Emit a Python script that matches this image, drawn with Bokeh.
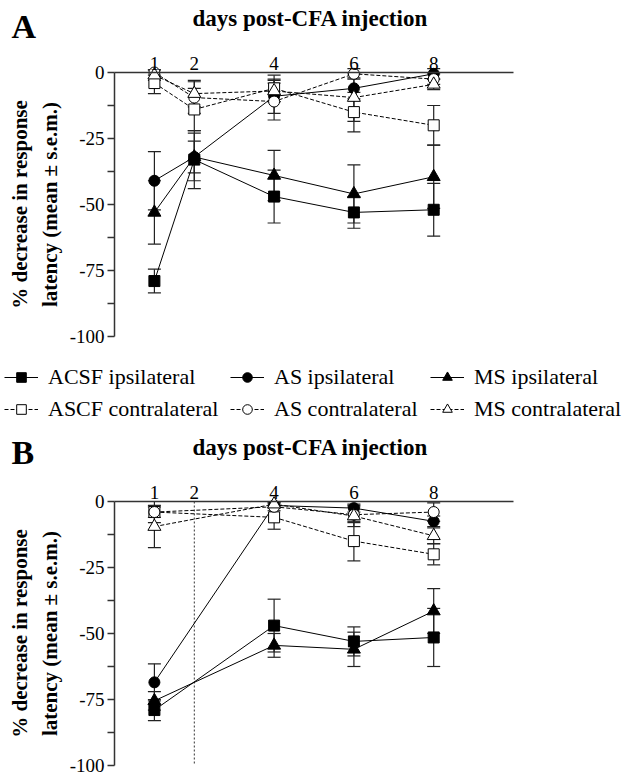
import numpy as np
from bokeh.plotting import figure
from bokeh.models import (ColumnDataSource, Whisker, TeeHead, FixedTicker, Label,
                          Legend, LegendItem)
from bokeh.layouts import column
from bokeh.embed import file_html
from bokeh.resources import INLINE

# ---------------- data ----------------
days_A = [1, 2, 4, 6, 8]
acsf_ipsi_A = [-79, -33, -47, -53, -52]
acsf_ipsi_A_sem = [4.5, 11, 10, 6, 10]
as_ipsi_A = [-41, -32, -9, -6, -0.5]
as_ipsi_A_sem = [11, 6, 6.5, 4, 2]
ms_ipsi_A = [-53, -32, -39, -46, -39.5]
ms_ipsi_A_sem = [12, 9, 9.5, 11, 12]
ascf_contra_A = [-4, -14, -6, -15, -20]
ascf_contra_A_sem = [4, 8, 5, 7.5, 7.5]
as_contra_A = [0, -9.5, -11, -0.5, -2.5]
as_contra_A_sem = [1, 6, 7, 2, 2]
ms_contra_A = [-1, -8, -7, -9.5, -4.5]
ms_contra_A_sem = [2, 5, 4, 9, 2]

days_B = [1, 4, 6, 8]
acsf_ipsi_B = [-79, -47, -53, -51.5]
acsf_ipsi_B_sem = [4, 10, 5.5, 11]
as_ipsi_B = [-68.5, -1.5, -2.5, -7.5]
as_ipsi_B_sem = [7, 1, 1.5, 2]
ms_ipsi_B = [-75.5, -54.5, -56, -41.5]
ms_ipsi_B_sem = [3.5, 4.5, 6.5, 8.5]
ascf_contra_B = [-4, -6, -15, -20]
ascf_contra_B_sem = [4, 4.5, 7.5, 4]
as_contra_B = [-4, -2, -5, -4]
as_contra_B_sem = [2, 1.5, 3, 3.5]
ms_contra_B = [-9.5, -1, -5.5, -13]
ms_contra_B_sem = [8, 1, 4, 3]

x_ticks = [1, 2, 4, 6, 8]
x_axis_extent = (0, 10)
y_ticks = [-100, -75, -50, -25, 0]
y_tick_labels = ["-100", "-75", "-50", "-25", "0"]
y_minor_ticks = [-87.5, -62.5, -37.5, -12.5]
y_axis_extent = (-100, 0)
labels = ["ACSF ipsilateral", "AS ipsilateral", "MS ipsilateral",
          "ASCF contralateral", "AS contralateral", "MS contralateral"]
title_text = "days post-CFA injection"
y_label = "% decrease in response\nlatency (mean \u00b1 s.e.m.)"
dashed_day_B = 2

FONT = "Liberation Serif"
W = 628
PPX = 39.9      # pixels per day
PPY = 2.64      # pixels per percent
X0_PX = 114     # canvas x of day 0


def make_panel(letter, days, series, height, y0_px, letter_base, title_base,
               legend_bottom=None, vline=None):
    x_start = -X0_PX / PPX
    x_end = x_start + W / PPX
    y_end = y0_px / PPY
    y_start = y_end - height / PPY
    p = figure(width=W, height=height, frame_width=W, frame_height=height,
               x_range=(x_start, x_end), y_range=(y_start, y_end),
               min_border=0, x_axis_location="above",
               output_backend="svg", toolbar_location=None)
    p.outline_line_color = None
    p.grid.visible = False
    p.background_fill_color = "white"
    p.border_fill_color = "white"

    def dx(cx):
        return x_start + cx / PPX

    def dy(cy):
        return y_end - cy / PPY

    xa = p.xaxis[0]
    xa.fixed_location = 0
    xa.bounds = x_axis_extent
    xa.ticker = FixedTicker(ticks=x_ticks)
    xa.major_tick_in = 0
    xa.major_tick_out = 0
    xa.minor_tick_line_color = None
    xa.axis_line_width = 1.5
    xa.axis_line_color = "#333333"
    xa.major_label_text_font = FONT
    xa.major_label_text_font_size = "19px"
    xa.major_label_text_color = "black"
    xa.major_label_standoff = 3

    ya = p.yaxis[0]
    ya.fixed_location = 0
    ya.bounds = y_axis_extent
    ya.ticker = FixedTicker(ticks=y_ticks, minor_ticks=y_minor_ticks)
    ya.major_label_overrides = {t: s for t, s in zip(y_ticks, y_tick_labels)}
    ya.major_tick_in = 0
    ya.major_tick_out = 7
    ya.minor_tick_in = 0
    ya.minor_tick_out = 7
    ya.major_tick_line_width = 1.5
    ya.minor_tick_line_width = 1.5
    ya.major_tick_line_color = "#333333"
    ya.minor_tick_line_color = "#333333"
    ya.axis_line_width = 1.5
    ya.axis_line_color = "#333333"
    ya.major_label_text_font = FONT
    ya.major_label_text_font_size = "19px"
    ya.major_label_text_color = "black"
    ya.major_label_standoff = 3
    ya.axis_label = y_label
    ya.axis_label_text_font = FONT
    ya.axis_label_text_font_style = "bold"
    ya.axis_label_text_font_size = "21px"
    ya.axis_label_text_color = "black"
    ya.axis_label_text_line_height = 1.25
    ya.axis_label_standoff = 5

    p.add_layout(Label(x=dx(11), y=dy(letter_base), text=letter,
                       text_font=FONT, text_font_style="bold",
                       text_font_size="34px", text_baseline="alphabetic",
                       text_color="black"))
    p.add_layout(Label(x=dx(310), y=dy(title_base), text=title_text,
                       text_font=FONT, text_font_style="bold",
                       text_font_size="23px", text_baseline="alphabetic",
                       text_align="center", text_color="black"))

    if vline is not None:
        p.segment(x0=[vline], y0=[y_axis_extent[1]], x1=[vline], y1=[y_axis_extent[0]],
                  line_color="#333333", line_width=1, line_dash="2 2")

    renderers = []
    for (vals, sems, marker, filled, dashed, size) in series:
        src = ColumnDataSource(dict(x=days, y=vals,
                                    up=[v + s for v, s in zip(vals, sems)],
                                    lo=[v - s for v, s in zip(vals, sems)]))
        w = Whisker(source=src, base="x", upper="up", lower="lo",
                    dimension="height", line_color="#222222", line_width=1.2,
                    upper_head=TeeHead(size=13, line_color="#222222", line_width=1.2),
                    lower_head=TeeHead(size=13, line_color="#222222", line_width=1.2))
        p.add_layout(w)
        lr = p.line("x", "y", source=src, line_color="black", line_width=1,
                    line_dash="4 2" if dashed else "solid")
        renderers.append((lr, src, marker, filled, size))
    items = []
    for (lr, src, marker, filled, size) in renderers:
        sr = p.scatter("x", "y", source=src, marker=marker, size=size,
                       fill_color="black" if filled else "white",
                       line_color="black", line_width=1)
        items.append([lr, sr])

    if legend_bottom is not None:
        col_x = [4, 230, 430]
        for c in range(3):
            leg = Legend(items=[LegendItem(label=labels[c], renderers=items[c]),
                                LegendItem(label=labels[c + 3], renderers=items[c + 3])],
                         location=(col_x[c], height - legend_bottom),
                         orientation="vertical",
                         glyph_width=34, glyph_height=24, label_height=22,
                         label_standoff=10, spacing=6, padding=0, margin=0,
                         border_line_alpha=0, background_fill_alpha=0,
                         label_text_font=FONT, label_text_font_size="22px",
                         label_text_color="black")
            p.add_layout(leg)
    return p


series_A = [
    (acsf_ipsi_A, acsf_ipsi_A_sem, "square", True, False, 11),
    (as_ipsi_A, as_ipsi_A_sem, "circle", True, False, 11),
    (ms_ipsi_A, ms_ipsi_A_sem, "triangle", True, False, 13),
    (ascf_contra_A, ascf_contra_A_sem, "square", False, True, 11),
    (as_contra_A, as_contra_A_sem, "circle", False, True, 11),
    (ms_contra_A, ms_contra_A_sem, "triangle", False, True, 13),
]
series_B = [
    (acsf_ipsi_B, acsf_ipsi_B_sem, "square", True, False, 11),
    (as_ipsi_B, as_ipsi_B_sem, "circle", True, False, 11),
    (ms_ipsi_B, ms_ipsi_B_sem, "triangle", True, False, 13),
    (ascf_contra_B, ascf_contra_B_sem, "square", False, True, 11),
    (as_contra_B, as_contra_B_sem, "circle", False, True, 11),
    (ms_contra_B, ms_contra_B_sem, "triangle", False, True, 13),
]

pA = make_panel("A", days_A, series_A, height=422, y0_px=72,
                letter_base=26, title_base=18, legend_bottom=422)
pB = make_panel("B", days_B, series_B, height=356, y0_px=79,
                letter_base=30, title_base=25, vline=dashed_day_B)

layout = column(pA, pB, spacing=0)
open("out.html", "w").write(file_html(layout, INLINE))
